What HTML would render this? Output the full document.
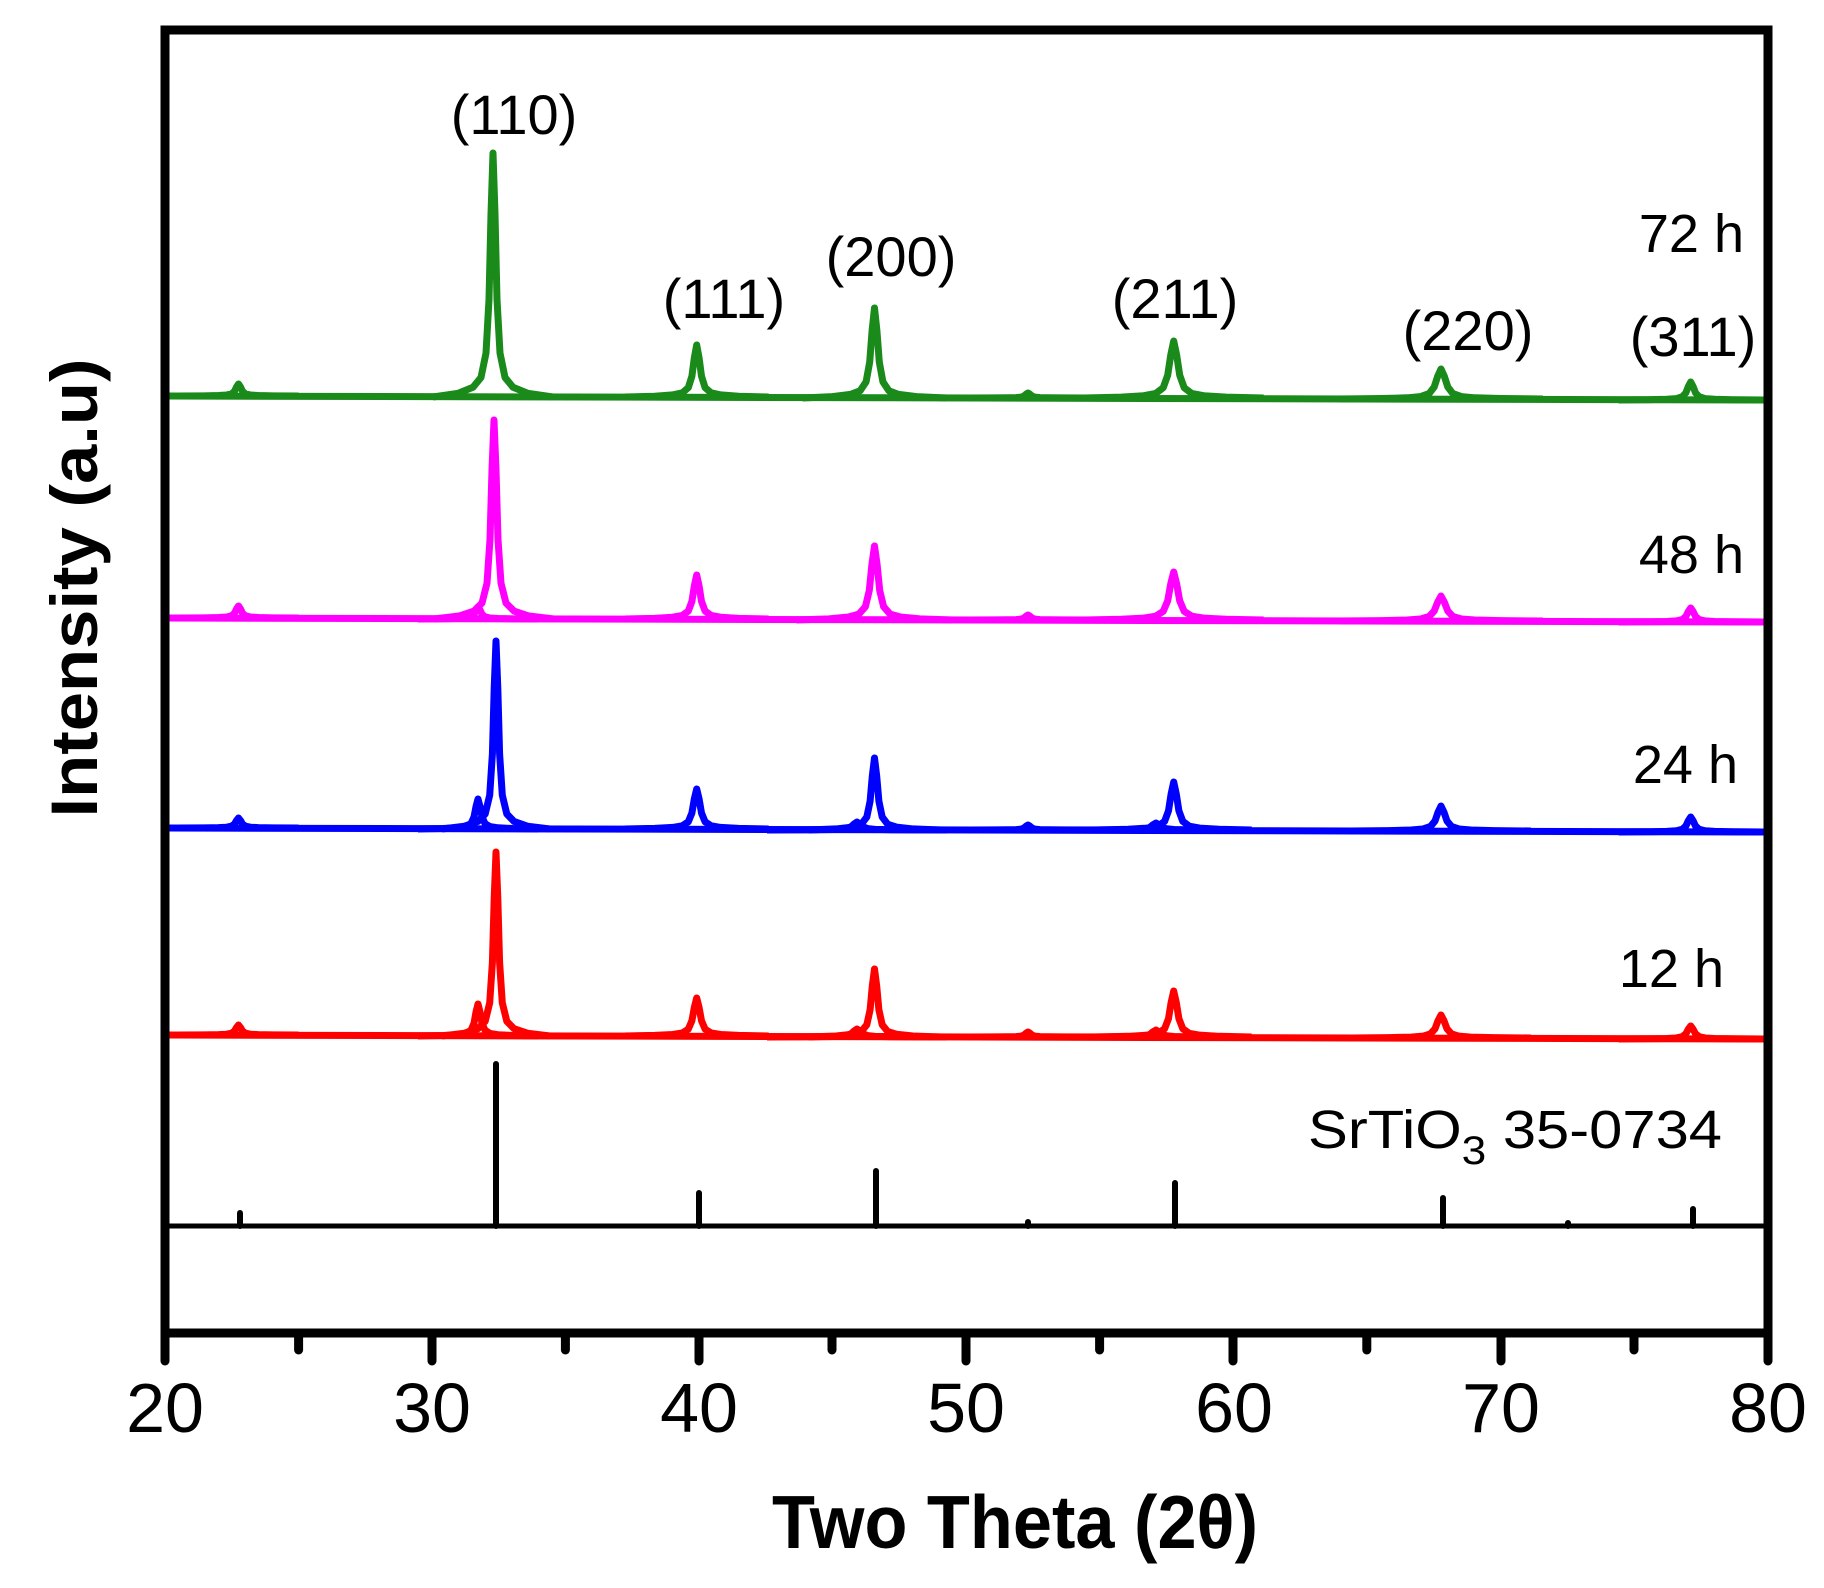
<!DOCTYPE html>
<html><head><meta charset="utf-8">
<style>html,body{margin:0;padding:0;background:#fff}svg{display:block}</style></head>
<body>
<svg width="1824" height="1588" viewBox="0 0 1824 1588" xmlns="http://www.w3.org/2000/svg" xmlns:xlink="http://www.w3.org/1999/xlink" font-family="Liberation Sans, Arial, sans-serif">
<defs>
<path id="pk" vector-effect="non-scaling-stroke" d="M-60 0 L-35 -0.015 L-20 -0.04 L-12 -0.08 L-7 -0.18 L-4 -0.4 L-2 -0.75 L0 -1 L2 -0.75 L4 -0.4 L7 -0.18 L12 -0.08 L20 -0.04 L35 -0.015 L60 0"/>
<clipPath id="cp"><rect x="166" y="31" width="1600" height="1300"/></clipPath>
</defs>
<rect width="1824" height="1588" fill="#fff"/>
<g clip-path="url(#cp)">
<!-- green 72 h -->
<g stroke="#1a8a1a" fill="none" stroke-width="7" stroke-linejoin="round">
<line x1="167" y1="396" x2="1766" y2="400"/>
<use xlink:href="#pk" transform="translate(238.5,396) scale(1,12)"/>
<use xlink:href="#pk" transform="translate(493,397) scale(1,244)"/>
<use xlink:href="#pk" transform="translate(696.7,397) scale(1.2,52)"/>
<use xlink:href="#pk" transform="translate(874.5,398) scale(1.2,90)"/>
<use xlink:href="#pk" transform="translate(1028,398) scale(1,5)"/>
<use xlink:href="#pk" transform="translate(1173.7,398) scale(1.5,57)"/>
<use xlink:href="#pk" transform="translate(1441,399) scale(1.7,30)"/>
<use xlink:href="#pk" transform="translate(1690.7,400) scale(1.2,18)"/>
</g>
<!-- magenta 48 h -->
<g stroke="#ff00ff" fill="none" stroke-width="7" stroke-linejoin="round">
<line x1="167" y1="618" x2="1766" y2="622"/>
<use xlink:href="#pk" transform="translate(238.5,618) scale(1,12)"/>
<use xlink:href="#pk" transform="translate(478,619) scale(1,12)"/>
<use xlink:href="#pk" transform="translate(494,619) scale(1,199)"/>
<use xlink:href="#pk" transform="translate(696.7,619) scale(1.2,44)"/>
<use xlink:href="#pk" transform="translate(874.5,620) scale(1.3,74)"/>
<use xlink:href="#pk" transform="translate(1028,620) scale(1,5)"/>
<use xlink:href="#pk" transform="translate(1173.7,620) scale(1.5,48)"/>
<use xlink:href="#pk" transform="translate(1441,621) scale(1.7,25)"/>
<use xlink:href="#pk" transform="translate(1690.7,622) scale(1.2,14)"/>
</g>
<!-- blue 24 h -->
<g stroke="#0000ff" fill="none" stroke-width="7" stroke-linejoin="round">
<line x1="167" y1="828" x2="1766" y2="832"/>
<use xlink:href="#pk" transform="translate(238.5,828) scale(1,10)"/>
<use xlink:href="#pk" transform="translate(478,829) scale(1,30)"/>
<use xlink:href="#pk" transform="translate(496,829) scale(0.9,188)"/>
<use xlink:href="#pk" transform="translate(696.7,829) scale(1.2,40)"/>
<use xlink:href="#pk" transform="translate(857,830) scale(1.5,8)"/>
<use xlink:href="#pk" transform="translate(874.5,830) scale(1.1,72)"/>
<use xlink:href="#pk" transform="translate(1028,830) scale(1,5)"/>
<use xlink:href="#pk" transform="translate(1156,830) scale(1.5,7)"/>
<use xlink:href="#pk" transform="translate(1173.7,830) scale(1.3,48)"/>
<use xlink:href="#pk" transform="translate(1441,831) scale(1.5,25)"/>
<use xlink:href="#pk" transform="translate(1690.7,832) scale(1.2,15)"/>
</g>
<!-- red 12 h -->
<g stroke="#ff0000" fill="none" stroke-width="7" stroke-linejoin="round">
<line x1="167" y1="1035" x2="1766" y2="1039"/>
<use xlink:href="#pk" transform="translate(238.5,1035) scale(1,10)"/>
<use xlink:href="#pk" transform="translate(478,1036) scale(1,32)"/>
<use xlink:href="#pk" transform="translate(496,1036) scale(0.9,184)"/>
<use xlink:href="#pk" transform="translate(696.7,1036) scale(1.2,38)"/>
<use xlink:href="#pk" transform="translate(857,1037) scale(1.5,8)"/>
<use xlink:href="#pk" transform="translate(874.5,1037) scale(1.1,68)"/>
<use xlink:href="#pk" transform="translate(1028,1037) scale(1,5)"/>
<use xlink:href="#pk" transform="translate(1156,1037) scale(1.5,7)"/>
<use xlink:href="#pk" transform="translate(1173.7,1037) scale(1.3,46)"/>
<use xlink:href="#pk" transform="translate(1441,1038) scale(1.5,23)"/>
<use xlink:href="#pk" transform="translate(1690.7,1039) scale(1.2,13)"/>
</g>
</g>

<!-- reference -->
<line x1="165" y1="1226" x2="1768" y2="1226" stroke="#000" stroke-width="5"/>
<g stroke="#000" stroke-width="6" stroke-linecap="round">
<line x1="240" y1="1213" x2="240" y2="1226"/>
<line x1="496" y1="1064" x2="496" y2="1226"/>
<line x1="699" y1="1193" x2="699" y2="1226"/>
<line x1="876" y1="1171" x2="876" y2="1226"/>
<line x1="1028" y1="1222" x2="1028" y2="1226"/>
<line x1="1175" y1="1183" x2="1175" y2="1226"/>
<line x1="1443" y1="1198" x2="1443" y2="1226"/>
<line x1="1568" y1="1223" x2="1568" y2="1226"/>
<line x1="1693" y1="1209" x2="1693" y2="1226"/>
</g>

<!-- frame -->
<rect x="165" y="30" width="1603" height="1303" fill="none" stroke="#000" stroke-width="9"/>
<g stroke="#000" stroke-width="9" stroke-linecap="round">
<line x1="165" y1="1333" x2="165" y2="1361"/>
<line x1="298.6" y1="1333" x2="298.6" y2="1350"/>
<line x1="432" y1="1333" x2="432" y2="1361"/>
<line x1="565.4" y1="1333" x2="565.4" y2="1350"/>
<line x1="699" y1="1333" x2="699" y2="1361"/>
<line x1="832" y1="1333" x2="832" y2="1350"/>
<line x1="966" y1="1333" x2="966" y2="1361"/>
<line x1="1099.6" y1="1333" x2="1099.6" y2="1350"/>
<line x1="1233" y1="1333" x2="1233" y2="1361"/>
<line x1="1366.8" y1="1333" x2="1366.8" y2="1350"/>
<line x1="1501" y1="1333" x2="1501" y2="1361"/>
<line x1="1634" y1="1333" x2="1634" y2="1350"/>
<line x1="1768" y1="1333" x2="1768" y2="1361"/>
</g>
<g font-size="70" text-anchor="middle" fill="#000">
<text x="165" y="1432">20</text><text x="432" y="1432">30</text><text x="699" y="1432">40</text>
<text x="966" y="1432">50</text><text x="1234" y="1432">60</text><text x="1501" y="1432">70</text><text x="1768" y="1432">80</text>
</g>
<text x="1015" y="1548" font-size="75" font-weight="bold" text-anchor="middle" textLength="486" lengthAdjust="spacingAndGlyphs">Two Theta (2θ)</text>
<text transform="translate(97,588) rotate(-90)" font-size="66" font-weight="bold" text-anchor="middle" textLength="459" lengthAdjust="spacingAndGlyphs">Intensity (a.u)</text>
<g font-size="56" text-anchor="middle" fill="#000">
<text x="514" y="134">(110)</text>
<text x="724" y="318">(111)</text>
<text x="891" y="276">(200)</text>
<text x="1175" y="318">(211)</text>
<text x="1468" y="350">(220)</text>
<text x="1693" y="356">(311)</text>
</g>
<g font-size="54" text-anchor="end" fill="#000">
<text x="1744" y="252">72 h</text>
<text x="1744" y="573">48 h</text>
<text x="1738" y="783">24 h</text>
<text x="1724" y="987">12 h</text>
<text x="1722" y="1148" textLength="414" lengthAdjust="spacingAndGlyphs">SrTiO<tspan font-size="40" dy="16">3</tspan><tspan dy="-16"> 35-0734</tspan></text>
</g>
</svg>
</body></html>
